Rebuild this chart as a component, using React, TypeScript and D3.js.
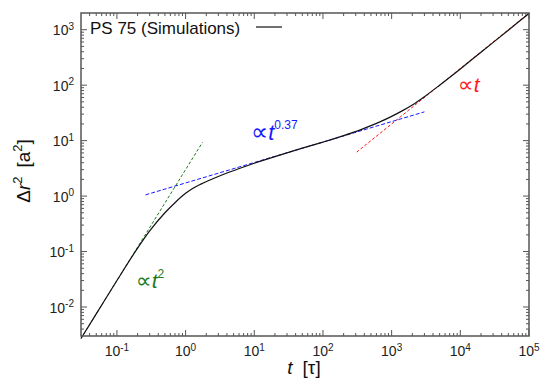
import React from "react";
import * as d3 from "d3";

// ---- data ----
const timeValues = [0.03, 0.05, 0.1, 0.2, 0.3, 0.5, 0.7, 1, 1.3, 1.7, 2.5, 4, 7, 10, 20, 50, 100, 200, 350, 500, 700, 1000, 1400, 2000, 3000, 5000, 10000, 20000, 50000, 100000];
const msdValues = [0.0027, 0.0075, 0.03, 0.115, 0.235, 0.5, 0.76, 1.12, 1.4, 1.66, 2.05, 2.6, 3.35, 3.9, 5.15, 7.3, 9.4, 12.3, 15.65, 18.6, 22.2, 27.4, 34, 44, 62, 100, 196, 392, 980, 1960];

const ballisticT = [0.03, 1.76];
const ballisticY = [0.0027, 9.3];
const subdiffT = [0.26, 3000];
const subdiffY = [1.05, 33];
const diffusiveT = [310, 100000];
const diffusiveY = [6.2, 2000];

const xTickExponents = [-1, 0, 1, 2, 3, 4, 5];
const yTickExponents = [-2, -1, 0, 1, 2, 3];
const legendLabel = "PS 75 (Simulations)";

const W = 541, H = 378;
const M = { left: 81, right: 12, top: 13, bottom: 42 };
const X_DOMAIN: [number, number] = [0.03, 1e5];
const Y_DOMAIN: [number, number] = [0.003, 2000];

const FONT = "'Liberation Sans', Arial, Helvetica, sans-serif";
const AXIS = "#555";

function minorTicks(domain: [number, number]) {
  const out: number[] = [];
  const lo = Math.floor(Math.log10(domain[0]));
  const hi = Math.ceil(Math.log10(domain[1]));
  for (let d = lo; d <= hi; d++) {
    for (let m = 2; m <= 9; m++) {
      const v = m * Math.pow(10, d);
      if (v > domain[0] * 1.0001 && v < domain[1] * 0.9999) out.push(v);
    }
  }
  return out;
}

export default function App() {
  const x = d3.scaleLog().domain(X_DOMAIN).range([M.left, W - M.right]);
  const y = d3.scaleLog().domain(Y_DOMAIN).range([H - M.bottom, M.top]);
  const x0 = M.left, x1 = W - M.right, y0 = H - M.bottom, y1 = M.top;

  const line = d3
    .line<[number, number]>()
    .x((d) => x(d[0]))
    .y((d) => y(d[1]))
    .curve(d3.curveMonotoneX);

  const mainPts = timeValues.map((t, i) => [t, msdValues[i]] as [number, number]);
  const pair = (ts: number[], ys: number[]) => ts.map((t, i) => [t, ys[i]] as [number, number]);
  const straight = d3.line<[number, number]>().x((d) => x(d[0])).y((d) => y(d[1]));

  const majorLen = 6, minorLen = 3;
  const xMinor = minorTicks(X_DOMAIN);
  const yMinor = minorTicks(Y_DOMAIN);

  return (
    <svg width={W} height={H} style={{ position: "absolute", left: 0, top: 0, background: "#fff" }} fontFamily={FONT}>
      <rect x={0} y={0} width={W} height={H} fill="#fff" />
      {/* ticks */}
      <g stroke={AXIS} strokeWidth={1}>
        {xTickExponents.map((e) => {
          const px = x(Math.pow(10, e));
          return (
            <g key={"xM" + e}>
              <line x1={px} x2={px} y1={y0} y2={y0 - majorLen} />
              <line x1={px} x2={px} y1={y1} y2={y1 + majorLen} />
            </g>
          );
        })}
        {xMinor.map((v, i) => {
          const px = x(v);
          return (
            <g key={"xm" + i}>
              <line x1={px} x2={px} y1={y0} y2={y0 - minorLen} />
              <line x1={px} x2={px} y1={y1} y2={y1 + minorLen} />
            </g>
          );
        })}
        {yTickExponents.map((e) => {
          const py = y(Math.pow(10, e));
          return (
            <g key={"yM" + e}>
              <line x1={x0} x2={x0 + majorLen} y1={py} y2={py} />
              <line x1={x1} x2={x1 - majorLen} y1={py} y2={py} />
            </g>
          );
        })}
        {yMinor.map((v, i) => {
          const py = y(v);
          return (
            <g key={"ym" + i}>
              <line x1={x0} x2={x0 + minorLen} y1={py} y2={py} />
              <line x1={x1} x2={x1 - minorLen} y1={py} y2={py} />
            </g>
          );
        })}
      </g>

      {/* fit lines */}
      <path d={straight(pair(ballisticT, ballisticY)) || ""} fill="none" stroke="#1c7a1c" strokeWidth={1} strokeDasharray="3,2" />
      <path d={straight(pair(subdiffT, subdiffY)) || ""} fill="none" stroke="#1a1aff" strokeWidth={1} strokeDasharray="4,2" />
      <path d={straight(pair(diffusiveT, diffusiveY)) || ""} fill="none" stroke="#ff1a1a" strokeWidth={1} strokeDasharray="3,2" />

      {/* main curve */}
      <path d={line(mainPts) || ""} fill="none" stroke="#111" strokeWidth={1.2} />

      {/* frame */}
      <rect x={x0} y={y1} width={x1 - x0} height={y0 - y1} fill="none" stroke={AXIS} strokeWidth={1.5} />

      {/* tick labels */}
      <g fill="#222" fontSize={14}>
        {xTickExponents.map((e) => (
          <text key={"xl" + e} x={x(Math.pow(10, e))} y={356} textAnchor="middle">
            10<tspan fontSize={10} dy={-5.5}>{String(e)}</tspan>
          </text>
        ))}
        {yTickExponents.map((e) => (
          <text key={"yl" + e} x={74} y={y(Math.pow(10, e)) + 5.5} textAnchor="end">
            10<tspan fontSize={10} dy={-5.5}>{String(e)}</tspan>
          </text>
        ))}
      </g>

      {/* axis labels */}
      <text x={304} y={374} fontSize={19} textAnchor="middle" fill="#111">
        <tspan fontStyle="italic">t</tspan>
        <tspan dx={10}>[τ]</tspan>
      </text>
      <text transform="translate(30,171) rotate(-90)" fontSize={19} textAnchor="middle" fill="#111">
        <tspan>Δ</tspan>
        <tspan fontStyle="italic">r</tspan>
        <tspan fontSize={13} dy={-8}>2</tspan>
        <tspan dy={8} dx={9}>[a</tspan>
        <tspan fontSize={13} dy={-8}>2</tspan>
        <tspan dy={8}>]</tspan>
      </text>

      {/* legend */}
      <text x={90} y={34} fontSize={17} fill="#111">{legendLabel}</text>
      <line x1={256} x2={282} y1={27} y2={27} stroke="#111" strokeWidth={1.2} />

      {/* annotations */}
      <text x={136} y={288} fontSize={21} fill="#1c7a1c">
        <tspan fontFamily="'DejaVu Sans', sans-serif" fontSize={22}>∝</tspan>
        <tspan fontStyle="italic">t</tspan>
        <tspan fontSize={12} dy={-10}>2</tspan>
      </text>
      <text x={251} y={140} fontSize={22} fill="#1a1aff">
        <tspan fontFamily="'DejaVu Sans', sans-serif" fontSize={24}>∝</tspan>
        <tspan fontStyle="italic">t</tspan>
        <tspan fontSize={12} dy={-11}>0.37</tspan>
      </text>
      <text x={458} y={92} fontSize={21} fill="#ff1a1a">
        <tspan fontFamily="'DejaVu Sans', sans-serif" fontSize={22}>∝</tspan>
        <tspan fontStyle="italic">t</tspan>
      </text>
    </svg>
  );
}
